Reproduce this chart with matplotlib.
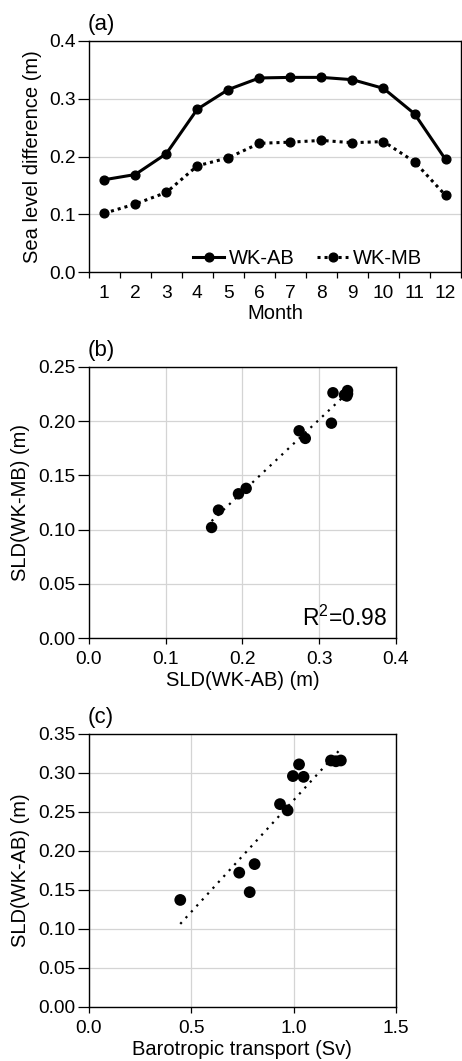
import numpy as np
import matplotlib
matplotlib.use('Agg')
import matplotlib.pyplot as plt
from matplotlib.ticker import FormatStrFormatter, MultipleLocator

plt.rcParams['font.family'] = ['Liberation Sans', 'DejaVu Sans']
plt.rcParams['mathtext.fontset'] = 'custom'
plt.rcParams['mathtext.rm'] = 'Liberation Sans'

# monthly sea level differences (m)
months = np.arange(1, 13)
wk_ab = [0.160, 0.169, 0.205, 0.282, 0.316, 0.336, 0.337, 0.337, 0.333, 0.318, 0.274, 0.195]
wk_mb = [0.102, 0.118, 0.138, 0.184, 0.198, 0.223, 0.225, 0.228, 0.224, 0.226, 0.191, 0.133]
r2_b = 0.98

# barotropic transport (Sv) vs SLD(WK-AB) (m)
transport = [0.447, 0.735, 0.786, 0.810, 0.934, 0.971, 0.997, 1.027, 1.049, 1.183, 1.207, 1.231]
sld_ab = [0.137, 0.172, 0.147, 0.183, 0.260, 0.252, 0.296, 0.311, 0.295, 0.316, 0.315, 0.316]

TICK = 13.8
LAB = 14.5
GRID = dict(color='#d4d4d4', lw=0.9)

fig = plt.figure(figsize=(4.62, 10.61), dpi=100)
ax1 = fig.add_axes([0.192, 0.7434, 0.806, 0.218])
ax2 = fig.add_axes([0.192, 0.3984, 0.665, 0.256])
ax3 = fig.add_axes([0.192, 0.0512, 0.665, 0.257])


def style(ax):
    for s in ax.spines.values():
        s.set_linewidth(1.0)
    ax.tick_params(axis='y', which='major', direction='out', length=8, width=0.9,
                   pad=1.5, labelsize=TICK)
    ax.tick_params(axis='x', which='major', direction='out', length=4.5, width=0.9,
                   pad=5, labelsize=TICK)
    ax.set_axisbelow(True)


def panel_label(ax, s):
    ax.annotate(s, xy=(0, 1), xycoords='axes fraction', xytext=(-1, 12),
                textcoords='offset points', ha='left', va='center', fontsize=16)


# (a) seasonal cycle
style(ax1)
ax1.plot(months, wk_ab, color='black', lw=2.2, marker='o', ms=6.3, label='WK-AB')
ax1.plot(months, wk_mb, color='black', lw=2.2, ls=(0, (1, 1.3)), marker='o', ms=6.3,
         label='WK-MB')
ax1.set_xlim(0.5, 12.5)
ax1.set_ylim(0, 0.4)
ax1.yaxis.set_major_locator(MultipleLocator(0.1))
ax1.yaxis.set_major_formatter(FormatStrFormatter('%.1f'))
ax1.set_xticks(np.arange(0.5, 12.6, 1.0))
ax1.set_xticklabels([])
ax1.set_xticks(months, minor=True)
ax1.set_xticklabels([str(m) for m in months], minor=True)
ax1.tick_params(axis='x', which='minor', length=0, pad=9.5, labelsize=TICK)
ax1.grid(axis='y', **GRID)
ax1.set_xlabel('Month', fontsize=LAB, labelpad=1)
ax1.set_ylabel('Sea level difference (m)', fontsize=LAB, labelpad=5)
ax1.legend(loc='center left', bbox_to_anchor=(0.28, 0.0575), ncol=2, frameon=False,
           fontsize=LAB, handlelength=1.55, handletextpad=0.25, columnspacing=1.1,
           borderpad=0, borderaxespad=0)
panel_label(ax1, '(a)')

# (b) WK-MB vs WK-AB
style(ax2)
ax2.scatter(wk_ab, wk_mb, s=68, color='black', zorder=3, edgecolors='none')
kb = np.polyfit(wk_ab, wk_mb, 1)
xb = np.array([min(wk_ab), max(wk_ab)])
ax2.plot(xb, np.polyval(kb, xb), color='black', lw=1.6, ls=(0, (1, 2.6)), zorder=2)
ax2.set_xlim(0, 0.4)
ax2.set_ylim(0, 0.25)
ax2.xaxis.set_major_locator(MultipleLocator(0.1))
ax2.xaxis.set_major_formatter(FormatStrFormatter('%.1f'))
ax2.yaxis.set_major_locator(MultipleLocator(0.05))
ax2.yaxis.set_major_formatter(FormatStrFormatter('%.2f'))
ax2.grid(True, **GRID)
ax2.set_xlabel('SLD(WK-AB) (m)', fontsize=LAB, labelpad=2)
ax2.set_ylabel('SLD(WK-MB) (m)', fontsize=LAB, labelpad=6)
ax2.text(0.97, 0.045, 'R$^{2}$=%.2f' % r2_b, transform=ax2.transAxes, ha='right',
         va='baseline', fontsize=16.5)
panel_label(ax2, '(b)')

# (c) SLD vs barotropic transport
style(ax3)
ax3.scatter(transport, sld_ab, s=72, color='black', zorder=3, edgecolors='none')
kc = np.polyfit(transport, sld_ab, 1)
xc = np.array([min(transport), max(transport)])
ax3.plot(xc, np.polyval(kc, xc), color='black', lw=1.6, ls=(0, (1, 2.6)), zorder=2)
ax3.set_xlim(0, 1.5)
ax3.set_ylim(0, 0.35)
ax3.xaxis.set_major_locator(MultipleLocator(0.5))
ax3.xaxis.set_major_formatter(FormatStrFormatter('%.1f'))
ax3.yaxis.set_major_locator(MultipleLocator(0.05))
ax3.yaxis.set_major_formatter(FormatStrFormatter('%.2f'))
ax3.grid(True, **GRID)
ax3.set_xlabel('Barotropic transport (Sv)', fontsize=LAB, labelpad=2)
ax3.set_ylabel('SLD(WK-AB) (m)', fontsize=LAB, labelpad=6)
panel_label(ax3, '(c)')

fig.savefig('out.png', dpi=100)
